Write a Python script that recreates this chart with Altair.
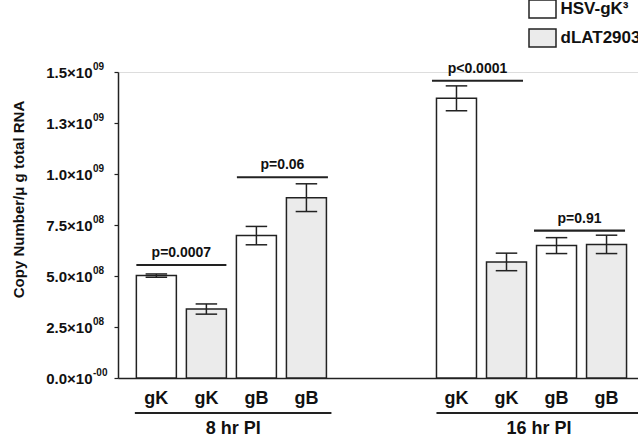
import json
import altair as alt
import pandas as pd

# Bar values: mean copy number per microgram of total RNA, with error half-widths
slots = [0, 1, 2, 3, 6, 7, 8, 9]
genes = ["gK", "gK", "gB", "gB", "gK", "gK", "gB", "gB"]
strains = ["HSV-gK³", "dLAT2903"] * 4
means = [0.502e9, 0.338e9, 0.698e9, 0.884e9, 1.371e9, 0.569e9, 0.649e9, 0.655e9]
errors = [0.008e9, 0.025e9, 0.045e9, 0.068e9, 0.061e9, 0.043e9, 0.039e9, 0.045e9]

# Significance brackets
p_labels = ["p=0.0007", "p=0.06", "p<0.0001", "p=0.91"]
p_start = [-0.4, 1.61, 5.51, 7.55]
p_end = [1.4, 3.43, 7.33, 9.37]
p_level = [0.554e9, 0.984e9, 1.457e9, 0.722e9]

# Time-point groups under the x axis
groups = ["8 hr PI", "16 hr PI"]
group_start = [-0.43, 5.6]
group_end = [3.5, 9.7]

# Y tick labels: mantissa part and superscript exponent
y_ticks = [0, 2.5e8, 5e8, 7.5e8, 1e9, 1.25e9, 1.5e9]
y_main = ["0.0×10", "2.5×10", "5.0×10", "7.5×10", "1.0×10", "1.3×10", "1.5×10"]
y_exp = ["-00", "08", "08", "08", "09", "09", "09"]

FONT = "Liberation Sans"
INK = "#222222"
HALF_CAP = 0.215

bars = pd.DataFrame({"slot": slots, "gene": genes, "strain": strains,
                     "mean": means, "err": errors})
bars["lo"] = bars["mean"] - bars["err"]
bars["hi"] = bars["mean"] + bars["err"]
bars["cap_l"] = bars["slot"] - HALF_CAP
bars["cap_r"] = bars["slot"] + HALF_CAP

sig = pd.DataFrame({"label": p_labels, "x0": p_start, "x1": p_end, "y": p_level})
sig["xm"] = (sig["x0"] + sig["x1"]) / 2
grp = pd.DataFrame({"label": groups, "x0": group_start, "x1": group_end})
grp["xm"] = (grp["x0"] + grp["x1"]) / 2
ticks = pd.DataFrame({"v": y_ticks, "exp": y_exp})

xscale = alt.Scale(domain=[-0.667, 9.529], nice=False, zero=False)
yscale = alt.Scale(domain=[0, 1.5e9], nice=False)

label_expr = json.dumps(y_main, ensure_ascii=False) + "[round(datum.value / 250000000)]"

x_enc = alt.X("slot:Q", scale=xscale,
              axis=alt.Axis(labels=False, ticks=False, grid=False, title=None,
                            domainColor=INK, domainWidth=1.5))
y_enc = alt.Y("mean:Q", scale=yscale,
              axis=alt.Axis(values=y_ticks, labelExpr=label_expr, grid=False,
                            tickSize=4, tickColor=INK, tickWidth=1.2,
                            domainColor=INK, domainWidth=1.5,
                            labelPadding=22, labelFont=FONT, labelFontSize=15,
                            labelFontWeight="bold", labelColor="#111",
                            title="Copy Number/μ g total RNA", titleFont=FONT,
                            titleFontSize=15, titleFontWeight="bold", titleColor="#111",
                            titleX=-100, titleY=127, titleAngle=270,
                            titleAlign="center", titleBaseline="middle"))

# Wide rectangular legend swatches (custom path scaled by sqrt(symbolSize)/2)
bar_layer = alt.Chart(bars).mark_bar(size=40, stroke=INK, strokeWidth=1.5).encode(
    x=x_enc,
    y=y_enc,
    fill=alt.Fill("strain:N",
                  scale=alt.Scale(domain=["HSV-gK³", "dLAT2903"],
                                  range=["#ffffff", "#ebebeb"]),
                  legend=alt.Legend(title=None, orient="none", legendX=414.5, legendY=-73,
                                    symbolType="M-1.5,-1H1.5V1H-1.5Z", symbolSize=324,
                                    symbolStrokeColor=INK, symbolStrokeWidth=1.5,
                                    symbolOpacity=1, labelFont=FONT, labelFontSize=17,
                                    labelFontWeight="bold", labelColor="#111",
                                    labelOffset=8, rowPadding=5, padding=0,
                                    labelLimit=200)),
)

err_stem = alt.Chart(bars).mark_rule(color=INK, strokeWidth=1.5).encode(
    x=alt.X("slot:Q", scale=xscale), y="lo:Q", y2="hi:Q")
err_top = alt.Chart(bars).mark_rule(color=INK, strokeWidth=1.5).encode(
    x=alt.X("cap_l:Q", scale=xscale), x2="cap_r:Q", y=alt.Y("hi:Q", scale=yscale))
err_bot = alt.Chart(bars).mark_rule(color=INK, strokeWidth=1.5).encode(
    x=alt.X("cap_l:Q", scale=xscale), x2="cap_r:Q", y=alt.Y("lo:Q", scale=yscale))

sig_line = alt.Chart(sig).mark_rule(color=INK, strokeWidth=2.2).encode(
    x=alt.X("x0:Q", scale=xscale), x2="x1:Q", y=alt.Y("y:Q", scale=yscale))
sig_text = alt.Chart(sig).mark_text(font=FONT, fontSize=14, fontWeight="bold",
                                    color="#111", baseline="bottom", dy=-5).encode(
    x=alt.X("xm:Q", scale=xscale), y=alt.Y("y:Q", scale=yscale), text="label:N")

gene_text = alt.Chart(bars).mark_text(font=FONT, fontSize=18, fontWeight="bold",
                                      color="#111", baseline="middle").encode(
    x=alt.X("slot:Q", scale=xscale), y=alt.value(327), text="gene:N")

grp_line = alt.Chart(grp).mark_rule(color=INK, strokeWidth=2.2).encode(
    x=alt.X("x0:Q", scale=xscale), x2="x1:Q", y=alt.value(341))
grp_text = alt.Chart(grp).mark_text(font=FONT, fontSize=18, fontWeight="bold",
                                    color="#111", baseline="top").encode(
    x=alt.X("xm:Q", scale=xscale), y=alt.value(348), text="label:N")

exp_text = alt.Chart(ticks).mark_text(font=FONT, fontSize=10, fontWeight="bold",
                                      color="#111", align="left", baseline="middle",
                                      dy=-5).encode(
    x=alt.value(-25), y=alt.Y("v:Q", scale=yscale), text="exp:N")

chart = alt.layer(
    bar_layer, err_stem, err_top, err_bot, sig_line, sig_text,
    gene_text, grp_line, grp_text, exp_text,
).properties(
    width=520, height=306,
    autosize=alt.AutoSizeParams(type="none"),
    padding={"left": 118, "top": 72, "right": 0, "bottom": 57},
).configure_view(stroke=None).configure(background="white")

chart.save("out.html", embed_options={"renderer": "svg", "actions": False})
